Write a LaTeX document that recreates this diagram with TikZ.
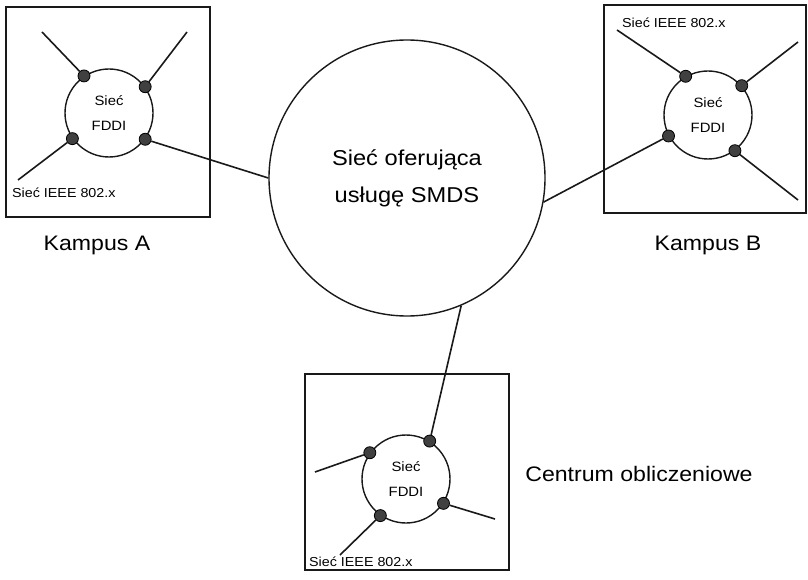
\documentclass[tikz,border=0pt]{standalone}
\usepackage{fontspec}
\setmainfont{Liberation Sans}[FakeStretch=1.1]
\begin{document}
\begin{tikzpicture}[x=1pt,y=-1pt,
  ln/.style={line width=1.6pt, draw=black!90},
  boxst/.style={draw=black!90, line width=1.3pt, rectangle, inner sep=0pt},
  ring/.style={draw=black!90, line width=1.4pt, circle, inner sep=0pt, minimum size=88pt, align=center, font=\fontsize{13.5}{25}\selectfont},
  dot/.style={circle, draw=black, fill=black!75, line width=0.8pt, inner sep=0pt, minimum size=12pt},
  small/.style={font=\fontsize{13}{15}\selectfont, inner sep=0pt, anchor=west},
  big/.style={font=\fontsize{21}{25}\selectfont, inner sep=0pt}]
\useasboundingbox (0,0) rectangle (808,580);
% boxes
\node[boxst, minimum width=204pt, minimum height=210pt] (boxA) at (108,112) {};
\node[boxst, minimum width=202pt, minimum height=208pt] (boxB) at (705,109) {};
\node[boxst, minimum width=204pt, minimum height=196pt] (boxC) at (407,472) {};
% main network
\node[draw=black!90, line width=1.4pt, circle, minimum size=276pt, inner sep=0pt, align=center,
      font=\fontsize{21.5}{37}\selectfont] (smds) at (407,178) {Sieć oferująca\\usługę SMDS};
% FDDI rings
\node[ring] (fA) at (109,113) {Sieć\\FDDI};
\node[ring] (fB) at (708,115) {Sieć\\FDDI};
\node[ring] (fC) at (406,479) {Sieć\\FDDI};
% free ends
\coordinate (a1e) at (42,32);
\coordinate (a2e) at (187,32);
\coordinate (a3e) at (18,180);
\coordinate (b1e) at (617,30);
\coordinate (b2e) at (798,42);
\coordinate (b4e) at (798,200);
\coordinate (c1e) at (315,472);
\coordinate (c3e) at (340,555);
\coordinate (c4e) at (495,519);
% stations
\node[dot] (a1) at (fA.124) {};
\node[dot] (a2) at (fA.36) {};
\node[dot] (a3) at (fA.215) {};
\node[dot] (a4) at (fA.324) {};
\node[dot] (b1) at (fB.120) {};
\node[dot] (b2) at (fB.41) {};
\node[dot] (b3) at (fB.208) {};
\node[dot] (b4) at (fB.307) {};
\node[dot] (c1) at (fC.144) {};
\node[dot] (c2) at (fC.58) {};
\node[dot] (c3) at (fC.235) {};
\node[dot] (c4) at (fC.327) {};
% connectors
\draw[ln] (a1) -- (a1e);
\draw[ln] (a2) -- (a2e);
\draw[ln] (a3) -- (a3e);
\draw[ln] (a4) -- (smds.180);
\draw[ln] (b1) -- (b1e);
\draw[ln] (b2) -- (b2e);
\draw[ln] (b4) -- (b4e);
\draw[ln] (b3) -- (smds.-10);
\draw[ln] (c1) -- (c1e);
\draw[ln] (c3) -- (c3e);
\draw[ln] (c4) -- (c4e);
\draw[ln] (c2) -- (smds.-67);
% labels
\node[small] (lA) at (12,193) {Sieć IEEE 802.x};
\node[small] (lB) at (622,23) {Sieć IEEE 802.x};
\node[small] (lC) at (309,562) {Sieć IEEE 802.x};
\node[big] (kA) at (97,245) {Kampus A};
\node[big] (kB) at (708,245) {Kampus B};
\node[big] (cent) at (639,474) {Centrum obliczeniowe};
\end{tikzpicture}
\end{document}
